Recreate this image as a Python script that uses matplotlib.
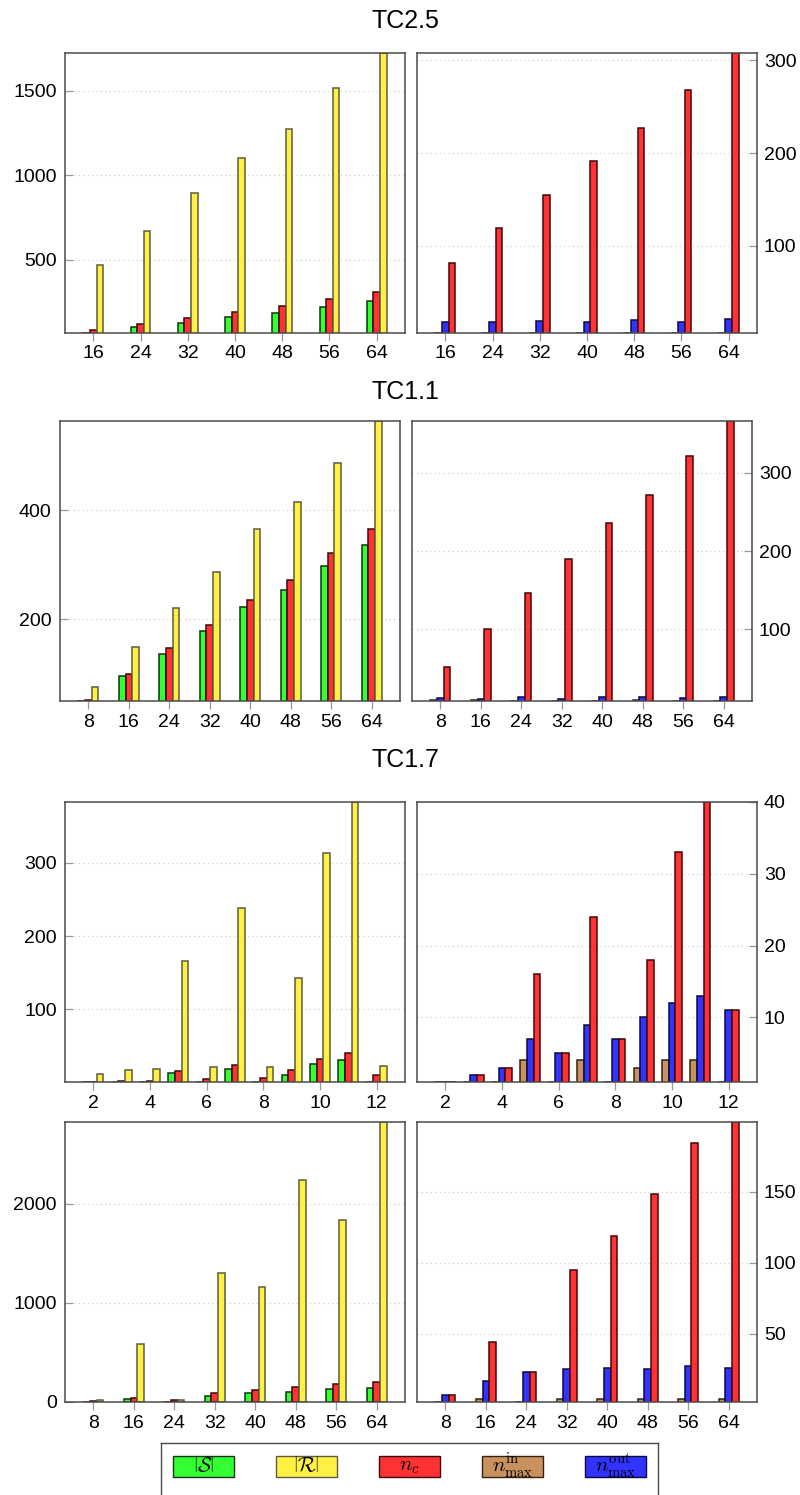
import matplotlib
matplotlib.use('Agg')
import matplotlib.pyplot as plt
from matplotlib.patches import Rectangle

plt.rcParams['font.family'] = ['Liberation Sans', 'DejaVu Sans']
plt.rcParams['mathtext.fontset'] = 'cm'

# ---- data -------------------------------------------------------------
# TC2.5
tc25_x = [16, 24, 32, 40, 48, 56, 64]
tc25_S = [66, 100, 127, 159, 184, 220, 253]
tc25_R = [466, 672, 893, 1100, 1271, 1516, 1723]
tc25_nc = [81, 119, 155, 192, 227, 268, 308]
tc25_nin = [6, 6, 6, 6, 6, 6, 6]
tc25_nout = [18, 18, 19, 18, 20, 18, 21]

# TC1.1
tc11_x = [8, 16, 24, 32, 40, 48, 56, 64]
tc11_S = [50, 96, 136, 178, 223, 254, 298, 337]
tc11_R = [75, 150, 221, 286, 366, 415, 487, 564]
tc11_nc = [52, 100, 147, 190, 236, 272, 321, 366]
tc11_nin = [10, 10, 9, 9, 9, 10, 9, 9]
tc11_nout = [12, 11, 14, 11, 13, 14, 12, 13]

# TC1.7 (small instances)
tc17a_x = [2, 3, 4, 5, 6, 7, 8, 9, 10, 11, 12]
tc17a_S = [1, 1, 1, 13, 1, 19, 1, 11, 25, 31, 1]
tc17a_R = [12, 17, 19, 166, 21, 238, 22, 143, 314, 383, 23]
tc17a_nc = [1, 2, 3, 16, 5, 24, 7, 18, 33, 40, 11]
tc17a_nin = [1, 1, 1, 4, 1, 4, 1, 3, 4, 4, 1]
tc17a_nout = [1, 2, 3, 7, 5, 9, 7, 10, 12, 13, 11]

# TC1.7 (large instances)
tc17b_x = [8, 16, 24, 32, 40, 48, 56, 64]
tc17b_S = [0, 30, 2, 64, 88, 101, 131, 138]
tc17b_R = [24, 582, 23, 1306, 1158, 2239, 1835, 2828]
tc17b_nc = [7, 44, 23, 95, 119, 148, 184, 199]
tc17b_nin = [2, 4, 2, 4, 4, 4, 4, 4]
tc17b_nout = [7, 17, 23, 25, 26, 25, 27, 26]

titles = ['TC2.5', 'TC1.1', 'TC1.7']
legend_labels = [r'$\left|\mathcal{S}\right|$', r'$\left|\mathcal{R}\right|$', r'$n_c$',
                 r'$n_{\max}^{\mathrm{in}}$', r'$n_{\max}^{\mathrm{out}}$']

# ---- styling ----------------------------------------------------------
W, H = 800, 1495
FACE = {'S': '#33ff33', 'R': '#fff044', 'nc': '#ff3333', 'nin': '#c8925e', 'nout': '#3333ff'}
EDGE = {'S': '#0f330f', 'R': '#5e5b40', 'nc': '#400808', 'nin': '#33220f', 'nout': '#0a0a40'}
SPINE = '#4a4a4a'
BAR_PX = 6.6

fig = plt.figure(figsize=(W / 100, H / 100), dpi=100)


def px_axes(x0, y0, x1, y1):
    return fig.add_axes([x0 / W, 1 - y1 / H, (x1 - x0) / W, (y1 - y0) / H])


def panel(box, xs, series, ylim, yticks, right=False):
    ax = px_axes(*box)
    span = xs[-1] - xs[0]
    xmin, xmax = xs[0] - 0.1 * span, xs[-1] + 0.1 * span
    width = BAR_PX * (xmax - xmin) / (box[2] - box[0])
    for k, (key, vals) in enumerate(series):
        pos = [x + (k - 1) * width for x in xs]
        ax.bar(pos, vals, width=width, bottom=0, color=FACE[key],
               edgecolor=EDGE[key], linewidth=1.1, zorder=3)
    ax.set_xlim(xmin, xmax)
    ax.set_ylim(*ylim)
    ax.set_xticks(xs[::2] if len(xs) > 8 else xs)
    ax.set_yticks(yticks)
    ax.set_axisbelow(True)
    ax.yaxis.grid(True, color='#c8c8c8', linestyle=(0, (1, 3)), linewidth=0.8)
    for s in ax.spines.values():
        s.set_color(SPINE)
        s.set_linewidth(1.1)
        s.set_zorder(4)
    ax.tick_params(axis='x', direction='out', length=6, width=0.9, color='#999999',
                   labelsize=14, pad=3)
    ax.tick_params(axis='y', direction='in', length=6, width=0.9, color='#999999',
                   labelsize=14, pad=6)
    if right:
        ax.yaxis.tick_right()
        ax.tick_params(axis='y', pad=5)
    return ax


def left_series(S, R, nc):
    return [('S', S), ('nc', nc), ('R', R)]


def right_series(nin, nout, nc):
    return [('nin', nin), ('nout', nout), ('nc', nc)]


# row 1: TC2.5
panel((65, 53, 405, 333), tc25_x, left_series(tc25_S, tc25_R, tc25_nc),
      (66, 1723), [500, 1000, 1500])
panel((417, 53, 757, 333), tc25_x, right_series(tc25_nin, tc25_nout, tc25_nc),
      (6, 308), [100, 200, 300], right=True)

# row 2: TC1.1
panel((60, 421, 400, 701), tc11_x, left_series(tc11_S, tc11_R, tc11_nc),
      (50, 564), [200, 400])
panel((412, 421, 752, 701), tc11_x, right_series(tc11_nin, tc11_nout, tc11_nc),
      (8.5, 366), [100, 200, 300], right=True)

# row 3: TC1.7 small
panel((65, 802, 405, 1082), tc17a_x, left_series(tc17a_S, tc17a_R, tc17a_nc),
      (1, 383), [100, 200, 300])
panel((417, 802, 757, 1082), tc17a_x, right_series(tc17a_nin, tc17a_nout, tc17a_nc),
      (1, 40), [10, 20, 30, 40], right=True)

# row 4: TC1.7 large
panel((65, 1122, 405, 1402), tc17b_x, left_series(tc17b_S, tc17b_R, tc17b_nc),
      (0, 2828), [0, 1000, 2000])
panel((417, 1122, 757, 1402), tc17b_x, right_series(tc17b_nin, tc17b_nout, tc17b_nc),
      (2, 199), [50, 100, 150], right=True)

# group titles
for title, ypx in zip(titles, [21, 392, 760]):
    fig.text(405 / W, 1 - ypx / H, title, ha='center', va='center', fontsize=18)

# legend: colour boxes with the label written inside
lg = px_axes(161, 1443, 658, 1500)
lg.set_xlim(161, 658)
lg.set_ylim(1500, 1443)
lg.set_xticks([])
lg.set_yticks([])
for s in lg.spines.values():
    s.set_color(SPINE)
    s.set_linewidth(1.0)
for i, (key, label) in enumerate(zip(['S', 'R', 'nc', 'nin', 'nout'], legend_labels)):
    x0 = 173 + i * 103
    lg.add_patch(Rectangle((x0, 1456), 61, 21, facecolor=FACE[key],
                           edgecolor=EDGE[key], linewidth=1.0))
    lg.text(x0 + 30.5, 1466.5, label, ha='center', va='center', fontsize=15)

fig.savefig('out.png', dpi=100)
